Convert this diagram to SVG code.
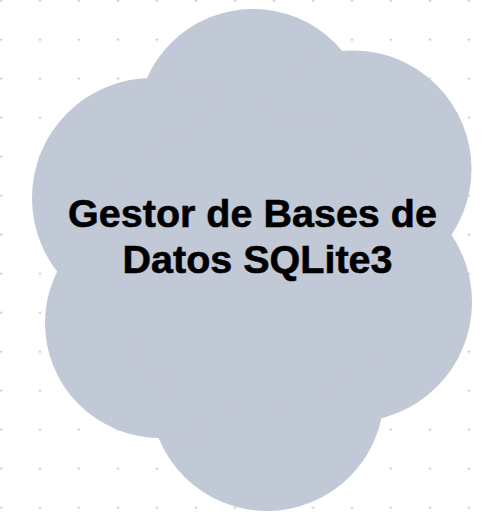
<svg xmlns="http://www.w3.org/2000/svg" width="483" height="516" viewBox="0 0 483 516">
  <style>
    .lobe { fill: #c1c8d6; stroke: none; }
    .label { font-family: "Liberation Sans", Arial, sans-serif; font-weight: 700; font-size: 39.5px; fill: #000000; stroke: #000000; stroke-width: 0.6px; text-anchor: middle; }
  </style>
  <defs>
    <pattern id="dots" x="-18.5" y="-18.8" width="39" height="39" patternUnits="userSpaceOnUse">
      <circle cx="19.5" cy="19.5" r="1" fill="#b4b4b8"/>
    </pattern>
  </defs>
  <rect x="0" y="0" width="483" height="516" fill="#ffffff"/>
  <rect x="0" y="0" width="483" height="516" fill="url(#dots)"/>
  <g id="connectors"></g>
  <g id="node-gestor">
    <g class="cloud">
      <circle class="lobe" cx="253" cy="125" r="116"/>
      <circle class="lobe" cx="353" cy="169" r="118.5"/>
      <circle class="lobe" cx="352" cy="302" r="120"/>
      <circle class="lobe" cx="267" cy="394" r="117"/>
      <circle class="lobe" cx="160" cy="323" r="115"/>
      <circle class="lobe" cx="152" cy="198" r="120"/>
      <circle class="lobe" cx="255" cy="260" r="150"/>
    </g>
    <text class="label" x="252.5" y="227">Gestor de Bases de</text>
    <text class="label" x="257.5" y="273">Datos SQLite3</text>
  </g>
</svg>
